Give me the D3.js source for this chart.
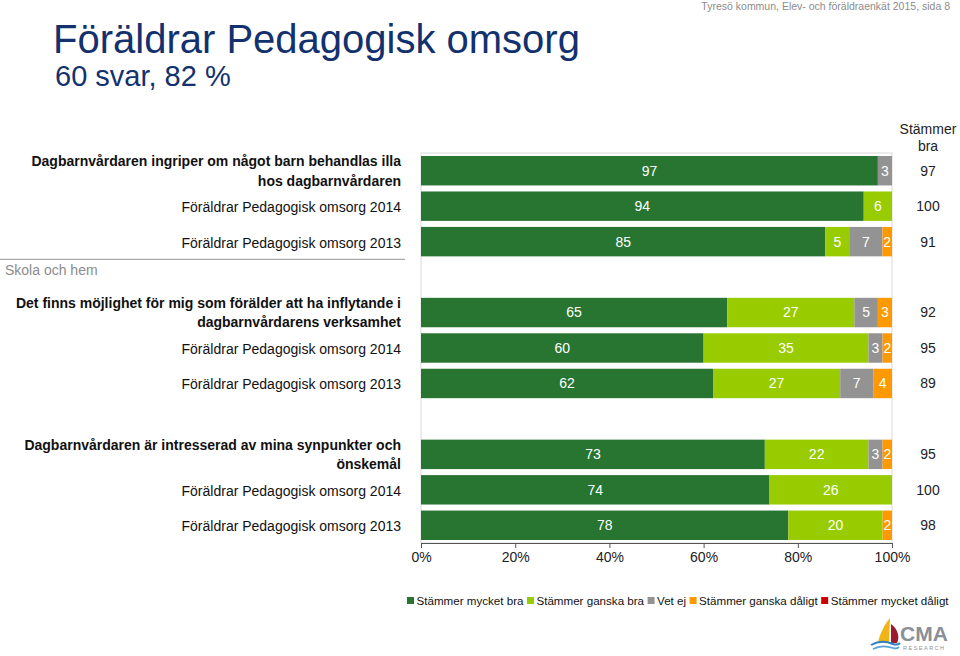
<!DOCTYPE html>
<html><head><meta charset="utf-8">
<script src="https://cdn.jsdelivr.net/npm/d3@7"></script>
<style>body{margin:0;background:#fff;overflow:hidden} svg{display:block;font-family:Arial,"Liberation Sans",sans-serif;}</style>
</head><body><svg id="c" width="960" height="656"></svg>
<script>
// ---------- data ----------
const seriesNames = ["Stämmer mycket bra","Stämmer ganska bra","Vet ej","Stämmer ganska dåligt","Stämmer mycket dåligt"];
const seriesColors = ["#277530","#99cc00","#939393","#ff9900","#cc0000"];
const rowIds = ["q1","q1_2014","q1_2013","q2","q2_2014","q2_2013","q3","q3_2014","q3_2013"];
const slotIds = ["q1","q1_2014","q1_2013","gap1","q2","q2_2014","q2_2013","gap2","q3","q3_2014","q3_2013"];
const rowLabels = [
  ["Dagbarnvårdaren ingriper om något barn behandlas illa","hos dagbarnvårdaren"],
  ["Föräldrar Pedagogisk omsorg 2014"],
  ["Föräldrar Pedagogisk omsorg 2013"],
  ["Det finns möjlighet för mig som förälder att ha inflytande i","dagbarnvårdarens verksamhet"],
  ["Föräldrar Pedagogisk omsorg 2014"],
  ["Föräldrar Pedagogisk omsorg 2013"],
  ["Dagbarnvårdaren är intresserad av mina synpunkter och","önskemål"],
  ["Föräldrar Pedagogisk omsorg 2014"],
  ["Föräldrar Pedagogisk omsorg 2013"]
];
const rowBold = [true,false,false,true,false,false,true,false,false];
const mycketBra    = [97,94,85,65,60,62,73,74,78];
const ganskaBra    = [0,6,5,27,35,27,22,26,20];
const vetEj        = [3,0,7,5,3,7,3,0,0];
const ganskaDaligt = [0,0,2,3,2,4,2,0,2];
const mycketDaligt = [0,0,0,0,0,0,0,0,0];
const stammerBra   = [97,100,91,92,95,89,95,100,98];
const tickValues   = [0,0.2,0.4,0.6,0.8,1];
const groupLabel   = "Skola och hem";
const titleText    = "Föräldrar Pedagogisk omsorg";
const subtitleText = "60 svar, 82 %";
const headerText   = "Tyresö kommun, Elev- och föräldraenkät 2015, sida 8";

// ---------- build ----------
const seriesValues = [mycketBra, ganskaBra, vetEj, ganskaDaligt, mycketDaligt];
const table = rowIds.map((id,i)=>{
  const o = {id};
  seriesNames.forEach((s,k)=>o[s]=seriesValues[k][i]);
  return o;
});
const stack = d3.stack().keys(seriesNames).offset(d3.stackOffsetExpand)(table);

const svg = d3.select("#c");
const x = d3.scaleLinear().domain([0,1]).range([421,892]);
const y = d3.scaleBand().domain(slotIds).range([153,543]).paddingInner(0.17).paddingOuter(0.085);
const bw = y.bandwidth();

// titles
svg.append("text").attr("x",53).attr("y",53).attr("font-size",40).attr("fill","#12316e").text(titleText);
svg.append("text").attr("x",55).attr("y",86).attr("font-size",29).attr("fill","#12316e").text(subtitleText);
svg.append("text").attr("x",950).attr("y",10).attr("text-anchor","end").attr("font-size",10.5).attr("fill","#8c8c8c").text(headerText);

// plot frame
svg.append("rect").attr("x",x(0)).attr("y",153).attr("width",x(1)-x(0)).attr("height",543-153)
  .attr("fill","none").attr("stroke","#d9d9d9").attr("stroke-width",1);

// bars
const g = svg.append("g");
stack.forEach((layer,k)=>{
  g.selectAll(null).data(layer).enter().append("rect")
    .attr("x",d=>x(d[0])).attr("width",d=>x(d[1])-x(d[0]))
    .attr("y",d=>y(d.data.id)).attr("height",bw)
    .attr("fill",seriesColors[k]);
});
stack.forEach((layer,k)=>{
  g.selectAll(null).data(layer.filter(d=>d.data[seriesNames[k]]>0)).enter().append("text")
    .attr("x",d=>(x(d[0])+x(d[1]))/2).attr("y",d=>y(d.data.id)+bw/2)
    .attr("dy","0.35em").attr("text-anchor","middle").attr("font-size",14).attr("fill","#ffffff")
    .text(d=>d.data[seriesNames[k]]);
});

// axis
const ax = svg.append("g").attr("transform","translate(0,543)")
  .call(d3.axisBottom(x).tickValues(tickValues).tickFormat(d3.format(".0%")).tickSize(5).tickPadding(4));
ax.select(".domain").attr("stroke","#555");
ax.selectAll(".tick line").attr("stroke","#555");
ax.selectAll(".tick text").attr("font-size",14).attr("fill","#222").attr("font-family","Arial, Liberation Sans, sans-serif");

// row labels
rowIds.forEach((id,i)=>{
  const cy = y(id)+bw/2;
  const lines = rowLabels[i];
  const t = svg.append("text").attr("text-anchor","end").attr("font-size",14)
    .attr("font-weight",rowBold[i]?"bold":"normal").attr("fill","#111");
  if(lines.length===1){
    t.append("tspan").attr("x",401).attr("y",cy+1).attr("dy","0.35em").text(lines[0]);
  } else {
    lines.forEach((l,j)=>{
      t.append("tspan").attr("x",401).attr("y",cy-9.5+j*19.5).attr("dy","0.35em").text(l);
    });
  }
});

// group separator
const sepY = y("q1_2013")+bw+y.step()*y.paddingInner()/2;
svg.append("line").attr("x1",0).attr("x2",405).attr("y1",sepY).attr("y2",sepY).attr("stroke","#aaaaaa").attr("stroke-width",1.2);
svg.append("text").attr("x",5).attr("y",sepY+11).attr("dy","0.35em").attr("font-size",14).attr("fill","#8c8c8c").text(groupLabel);

// Stämmer bra column
svg.append("text").attr("x",928).attr("y",129).attr("dy","0.35em").attr("text-anchor","middle").attr("font-size",14).attr("fill","#222").text("Stämmer");
svg.append("text").attr("x",928).attr("y",146).attr("dy","0.35em").attr("text-anchor","middle").attr("font-size",14).attr("fill","#222").text("bra");
svg.selectAll(null).data(rowIds).enter().append("text")
  .attr("x",928).attr("y",d=>y(d)+bw/2).attr("dy","0.35em").attr("text-anchor","middle")
  .attr("font-size",14).attr("fill","#222").text((d,i)=>stammerBra[i]);

// legend
let lx = 407;
const lg = svg.append("g");
seriesNames.forEach((s,k)=>{
  lg.append("rect").attr("x",lx).attr("y",597).attr("width",7).attr("height",7).attr("fill",seriesColors[k]);
  const t = lg.append("text").attr("x",lx+9.5).attr("y",601).attr("dy","0.35em").attr("font-size",11.6).attr("fill","#111").text(s);
  lx += 9.5 + t.node().getComputedTextLength() + 3.5;
});

// logo (CMA Research)
const logo = svg.append("g");
logo.append("path").attr("d","M890,618 C884,625 880,634 878,642 L889,642 Z").attr("fill","#f2b316");
logo.append("path").attr("d","M891,624 C898,629 900,637 897,643 L891,643 Z").attr("fill","#9e1a2e");
logo.append("path").attr("d","M871,645 C878,641 886,641 893,644 C896,645 899,644 900,643").attr("fill","none").attr("stroke","#2f7fc1").attr("stroke-width",2);
logo.append("path").attr("d","M873,649 C880,645 887,646 893,648 C896,649 898,648 899,647").attr("fill","none").attr("stroke","#5aa2d6").attr("stroke-width",1.8);
logo.append("text").attr("x",900).attr("y",641).attr("font-size",21).attr("font-weight","bold").attr("fill","#8a8f98").text("CMA");
logo.append("text").attr("x",903).attr("y",650).attr("font-size",5.5).attr("letter-spacing",1.5).attr("fill","#8a8f98").text("RESEARCH");
</script></body></html>
